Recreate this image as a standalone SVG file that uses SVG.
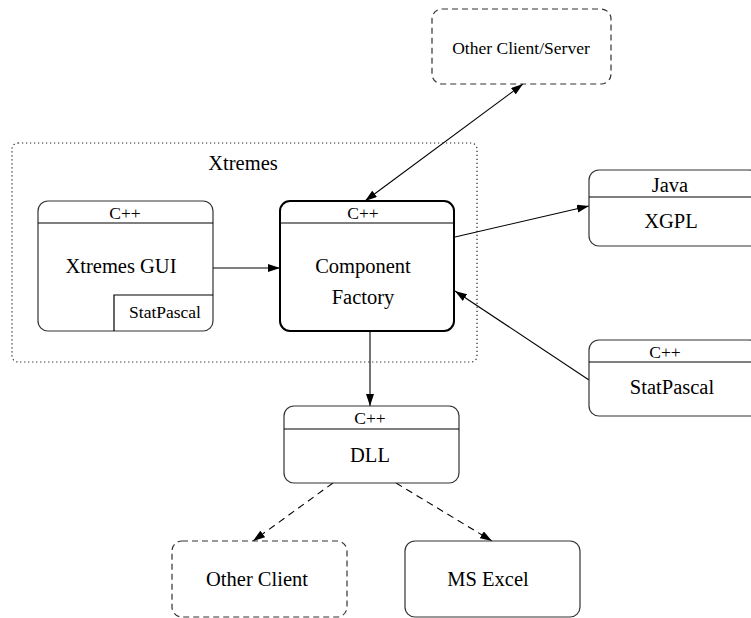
<svg xmlns="http://www.w3.org/2000/svg" width="751" height="618" viewBox="0 0 751 618">
<defs>
<marker id="ah" viewBox="0 0 12 8" refX="12" refY="4" markerWidth="12" markerHeight="8" markerUnits="userSpaceOnUse" orient="auto">
<path d="M0,0 L12,4 L0,8 Z" fill="#000"/>
</marker>
<marker id="ahs" viewBox="0 0 12 8" refX="0" refY="4" markerWidth="12" markerHeight="8" markerUnits="userSpaceOnUse" orient="auto">
<path d="M12,0 L0,4 L12,8 Z" fill="#000"/>
</marker>
</defs>
<style>
text{font-family:"Liberation Serif","Times New Roman",serif;fill:#000;text-anchor:middle}
.lg{font-size:20.5px}
.sm{font-size:17.5px}
.box{fill:#fff;stroke:#333;stroke-width:1.2}
.thick{stroke:#000;stroke-width:2}
.dash{fill:#fff;stroke:#333;stroke-width:1.2;stroke-dasharray:6 4}
.hl{stroke:#000;stroke-width:1.2;fill:none}
.ln{stroke:#000;stroke-width:1.1;fill:none}
.dl{stroke:#000;stroke-width:1.1;fill:none;stroke-dasharray:7 5}
</style>
<rect width="751" height="618" fill="#fff"/>
<g id="xtremes">
<rect x="12" y="143" width="465" height="219" rx="6" fill="none" stroke="#222" stroke-width="1.2" stroke-dasharray="1.2 2.8"/>
<text class="lg" x="243" y="170">Xtremes</text>
</g>
<g id="connectors">
<line class="ln" x1="213" y1="268" x2="280" y2="268" marker-end="url(#ah)"/>
<line class="ln" x1="365" y1="201" x2="523" y2="84" marker-start="url(#ahs)" marker-end="url(#ah)"/>
<line class="ln" x1="455" y1="237" x2="589" y2="206" marker-end="url(#ah)"/>
<line class="ln" x1="589" y1="380" x2="455" y2="291" marker-end="url(#ah)"/>
<line class="ln" x1="370" y1="331" x2="370" y2="406" marker-end="url(#ah)"/>
<line class="dl" x1="333" y1="483" x2="253" y2="541" marker-end="url(#ah)"/>
<line class="dl" x1="396" y1="483" x2="492" y2="541" marker-end="url(#ah)"/>
</g>
<g id="xtremes-gui">
<rect class="box" x="38" y="201" width="175" height="130" rx="10"/>
<line class="hl" x1="38" y1="223" x2="213" y2="223"/>
<text class="sm" x="125" y="219">C++</text>
<text class="lg" x="121" y="273">Xtremes GUI</text>
<polyline class="hl" points="114,331 114,295 213,295"/>
<text class="sm" x="165" y="318">StatPascal</text>
</g>
<g id="component-factory">
<rect class="box thick" x="280" y="201" width="174" height="130" rx="10"/>
<line class="hl" x1="280" y1="223" x2="454" y2="223"/>
<text class="sm" x="363" y="219">C++</text>
<text class="lg" x="363" y="273">Component</text>
<text class="lg" x="363" y="304">Factory</text>
</g>
<g id="other-client-server">
<rect class="dash" x="432" y="9" width="179" height="75" rx="10"/>
<text class="sm" x="521" y="54">Other Client/Server</text>
</g>
<g id="xgpl">
<rect class="box" x="589" y="170" width="170" height="76" rx="10"/>
<line class="hl" x1="589" y1="197" x2="759" y2="197"/>
<text class="lg" x="670" y="192">Java</text>
<text class="lg" x="671" y="228">XGPL</text>
</g>
<g id="statpascal">
<rect class="box" x="589" y="340" width="170" height="76" rx="10"/>
<line class="hl" x1="589" y1="362" x2="759" y2="362"/>
<text class="sm" x="665" y="358">C++</text>
<text class="lg" x="672" y="394">StatPascal</text>
</g>
<g id="dll">
<rect class="box" x="284" y="406" width="175" height="77" rx="10"/>
<line class="hl" x1="284" y1="429" x2="459" y2="429"/>
<text class="sm" x="370" y="424">C++</text>
<text class="lg" x="370" y="462">DLL</text>
</g>
<g id="other-client">
<rect class="dash" x="172" y="541" width="175" height="76" rx="10"/>
<text class="lg" x="257" y="586">Other Client</text>
</g>
<g id="ms-excel">
<rect class="box" x="405" y="541" width="175" height="76" rx="10"/>
<text class="lg" x="488" y="586">MS Excel</text>
</g>
</svg>
